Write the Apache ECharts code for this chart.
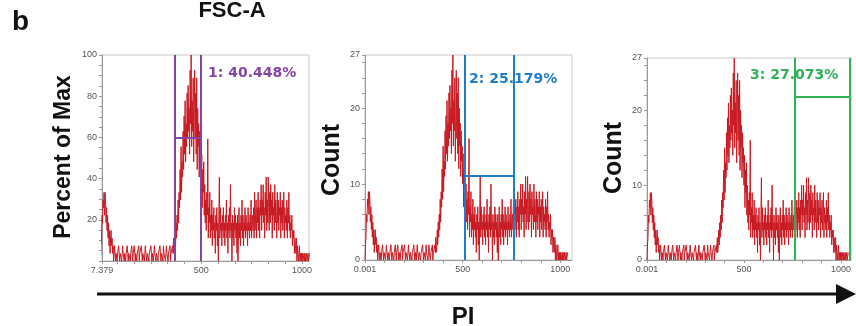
<!DOCTYPE html>
<html>
<head>
<meta charset="utf-8">
<script src="https://cdn.jsdelivr.net/npm/echarts@6/dist/echarts.min.js"></script>
<style>
  html, body { margin: 0; padding: 0; background: #fff; }
  #chart { width: 856px; height: 326px; }
</style>
</head>
<body>
<div id="chart"></div>
<script>
// PI histogram, bin width 2.5 starting at 0 (counts per bin)
const binWidth = 2.5
const counts = [
  0, 2, 3, 6, 5, 8, 7, 9,
  6, 9, 8, 5, 7, 4, 6, 3,
  5, 2, 4, 1, 3, 4, 2, 3,
  1, 2, 0, 1, 2, 1, 0, 1,
  // flat part 80 - 357.5
  1, 0, 1, 1, 2, 1, 0, 1, 1, 1, 0, 1, 2, 1, 1, 0,
  1, 1, 0, 1, 1, 2, 1, 0, 1, 1, 1, 0, 1, 1, 2, 1,
  0, 1, 1, 2, 1, 0, 1, 1, 0, 1, 1, 1, 2, 0, 1, 1,
  1, 2, 1, 0, 1, 1, 1, 0, 1, 2, 1, 1, 0, 1, 1, 1,
  0, 1, 1, 1, 2, 1, 0, 1, 1, 0, 1, 2, 1, 1, 0, 1,
  1, 1, 0, 1, 1, 1, 2, 1, 0, 1, 1, 1, 0, 2, 1, 1,
  1, 0, 1, 2, 1, 1, 0, 1, 1, 1, 2, 0, 1, 1, 1, 2,
  // G1 peak
  1, 3, 1, 2, 4, 2, 5, 3,
  6, 4, 8, 5, 9, 7, 12, 8,
  15, 9, 13, 11, 17, 12, 19, 14,
  21, 13, 18, 15, 22, 16, 23, 17,
  20, 14, 25, 18, 27, 15, 21, 17,
  24, 13, 19, 25, 16, 22, 14, 24,
  12, 20, 15, 18, 11, 17, 13, 15,
  10, 14, 7, 12, 9, 13, 6, 10,
  // S phase
  5, 8, 4, 9, 6, 16, 3, 7,
  5, 9, 3, 6, 4, 8, 2, 6,
  4, 7, 3, 5, 1, 6, 4, 7,
  2, 5, 0, 6, 11, 3, 7, 4,
  5, 2, 6, 4, 7, 3, 5, 2,
  6, 4, 8, 3, 5, 1, 6, 4,
  7, 3, 10, 4, 5, 0, 6, 3,
  5, 2, 7, 4, 6, 3, 5, 1,
  6, 0, 4, 7, 3, 5, 2, 6,
  4, 8, 3, 6, 2, 5, 4, 7,
  3, 6, 4, 5, 2, 7, 4, 5,
  // G2 hump
  3, 6, 4, 8, 3, 5, 6, 4,
  7, 3, 9, 4, 6, 8, 3, 7,
  5, 9, 4, 7, 3, 8, 6, 10,
  4, 8, 6, 10, 5, 7, 3, 9,
  6, 11, 4, 8, 5, 11, 7, 4,
  9, 5, 10, 6, 8, 3, 9, 6,
  7, 4, 10, 5, 8, 6, 3, 9,
  5, 8, 4, 7, 6, 9, 3, 7,
  5, 8, 4, 6, 9, 3, 7, 5,
  6, 4, 8, 3, 7, 5, 9, 4,
  6, 3, 5, 4, 6, 2, 4, 3,
  4, 1, 3, 2, 1, 3, 0, 2,
  1, 0, 1, 2, 0, 1, 0, 1,
  0, 1, 0, 0, 1, 0, 1, 0, 0, 1, 0, 0, 1, 0, 0, 1
]
const maxCount = 27

// gates for the three panels
const gateLo = [371, 512, 762]
const gateHi = [500, 763, 1048]
const gateLevel = [60, 11.1, 21.8]
const gateLabels = ['1: 40.448%', '2: 25.179%', '3: 27.073%']
const gateColors = ['#8444a6', '#1f7cc6', '#2eb256']

// tick labels
const xLabels1 = [7.379, 500, 1000]
const xLabels23 = [0.001, 500, 1000]
const yLabels1 = [20, 40, 60, 80, 100]
const yLabels23 = [0, 10, 20, 27]

const countPoints = counts.map((c, i) => [i * binWidth, c])
const pctPoints = counts.map((c, i) => [i * binWidth, c / maxCount * 100])

const grids = [
  { left: 102, top: 55, width: 207, height: 206 },
  { left: 365, top: 55, width: 207, height: 205 },
  { left: 647, top: 58, width: 204, height: 202 }
]
const xRange = [[7.379, 1035], [0, 1060], [0, 1052]]
const yMax = [100, 27, 27]

function steps(from, to, step) {
  const out = []
  for (let v = from; v <= to + 1e-9; v += step) out.push(+v.toFixed(3))
  return out
}

const labelStyle = { color: '#555', fontSize: 9, fontFamily: 'Liberation Sans, Arial', margin: 5 }

const xAxis = grids.map((g, k) => ({
  type: 'value',
  gridIndex: k,
  min: xRange[k][0],
  max: xRange[k][1],
  axisLine: { lineStyle: { color: '#999' } },
  axisTick: {
    length: 3,
    lineStyle: { color: '#999' },
    customValues: k === 0 ? xLabels1.concat(steps(83.3, 1000, 83.3)) : steps(0, 1000, 100)
  },
  axisLabel: Object.assign({
    customValues: k === 0 ? xLabels1 : xLabels23,
    formatter: v => String(v)
  }, labelStyle),
  splitLine: { show: false }
}))

const yAxis = grids.map((g, k) => ({
  type: 'value',
  gridIndex: k,
  min: 0,
  max: yMax[k],
  axisLine: { show: true, lineStyle: { color: '#999' } },
  axisTick: {
    show: true,
    length: 3,
    lineStyle: { color: '#999' },
    customValues: k === 0 ? steps(0, 100, 5) : steps(0, 26, 2).concat([27])
  },
  axisLabel: Object.assign({
    customValues: k === 0 ? yLabels1 : yLabels23
  }, labelStyle),
  splitLine: { show: false }
}))

const series = grids.map((g, k) => ({
  type: 'line',
  xAxisIndex: k,
  yAxisIndex: k,
  data: k === 0 ? pctPoints : countPoints,
  showSymbol: false,
  sampling: null,
  clip: true,
  lineStyle: { color: '#c81a22', width: 1 },
  markLine: {
    silent: true,
    symbol: 'none',
    label: { show: false },
    lineStyle: { color: gateColors[k], width: 2, type: 'solid' },
    data: [
      [{ coord: [gateLo[k], 0] }, { coord: [gateLo[k], yMax[k]] }],
      [{ coord: [gateLo[k], gateLevel[k]] }, { coord: [gateHi[k], gateLevel[k]] }],
      [{ coord: [gateHi[k], 0] }, { coord: [gateHi[k], yMax[k]] }]
    ]
  }
}))

const bold = 'Liberation Sans, Arial, sans-serif'
const gateTextPos = [[208, 73], [469, 79], [750, 75]]

const graphic = [
  { type: 'text', left: 12, top: 8, style: { text: 'b', font: 'bold 28px ' + bold, fill: '#111' } },
  { type: 'text', x: 232, y: 11, style: { text: 'FSC-A', font: 'bold 22px ' + bold, fill: '#111', textAlign: 'center', textVerticalAlign: 'middle' } },
  { type: 'text', x: 64, y: 157, rotation: Math.PI / 2, style: { text: 'Percent of Max', font: 'bold 23px ' + bold, fill: '#111', textAlign: 'center', textVerticalAlign: 'middle' } },
  { type: 'text', x: 332, y: 160, rotation: Math.PI / 2, style: { text: 'Count', font: 'bold 25px ' + bold, fill: '#111', textAlign: 'center', textVerticalAlign: 'middle' } },
  { type: 'text', x: 614, y: 158, rotation: Math.PI / 2, style: { text: 'Count', font: 'bold 25px ' + bold, fill: '#111', textAlign: 'center', textVerticalAlign: 'middle' } },
  { type: 'line', shape: { x1: 97, y1: 294, x2: 840, y2: 294 }, style: { stroke: '#111', lineWidth: 3 } },
  { type: 'polygon', shape: { points: [[836, 284], [856, 294], [836, 304]] }, style: { fill: '#111' } },
  { type: 'text', x: 463, y: 317, style: { text: 'PI', font: 'bold 24px ' + bold, fill: '#111', textAlign: 'center', textVerticalAlign: 'middle' } }
]
gateLabels.forEach((t, k) => {
  graphic.push({
    type: 'text', x: gateTextPos[k][0], y: gateTextPos[k][1],
    style: { text: t, font: 'bold 14px DejaVu Sans, Verdana, sans-serif', fill: gateColors[k], textVerticalAlign: 'middle' }
  })
})

const chart = echarts.init(document.getElementById('chart'))
chart.setOption({
  animation: false,
  backgroundColor: '#fff',
  grid: grids.map(g => Object.assign({ show: true, borderColor: '#c8c8c8', borderWidth: 1, backgroundColor: 'transparent' }, g)),
  xAxis,
  yAxis,
  series,
  graphic
})
</script>
</body>
</html>
